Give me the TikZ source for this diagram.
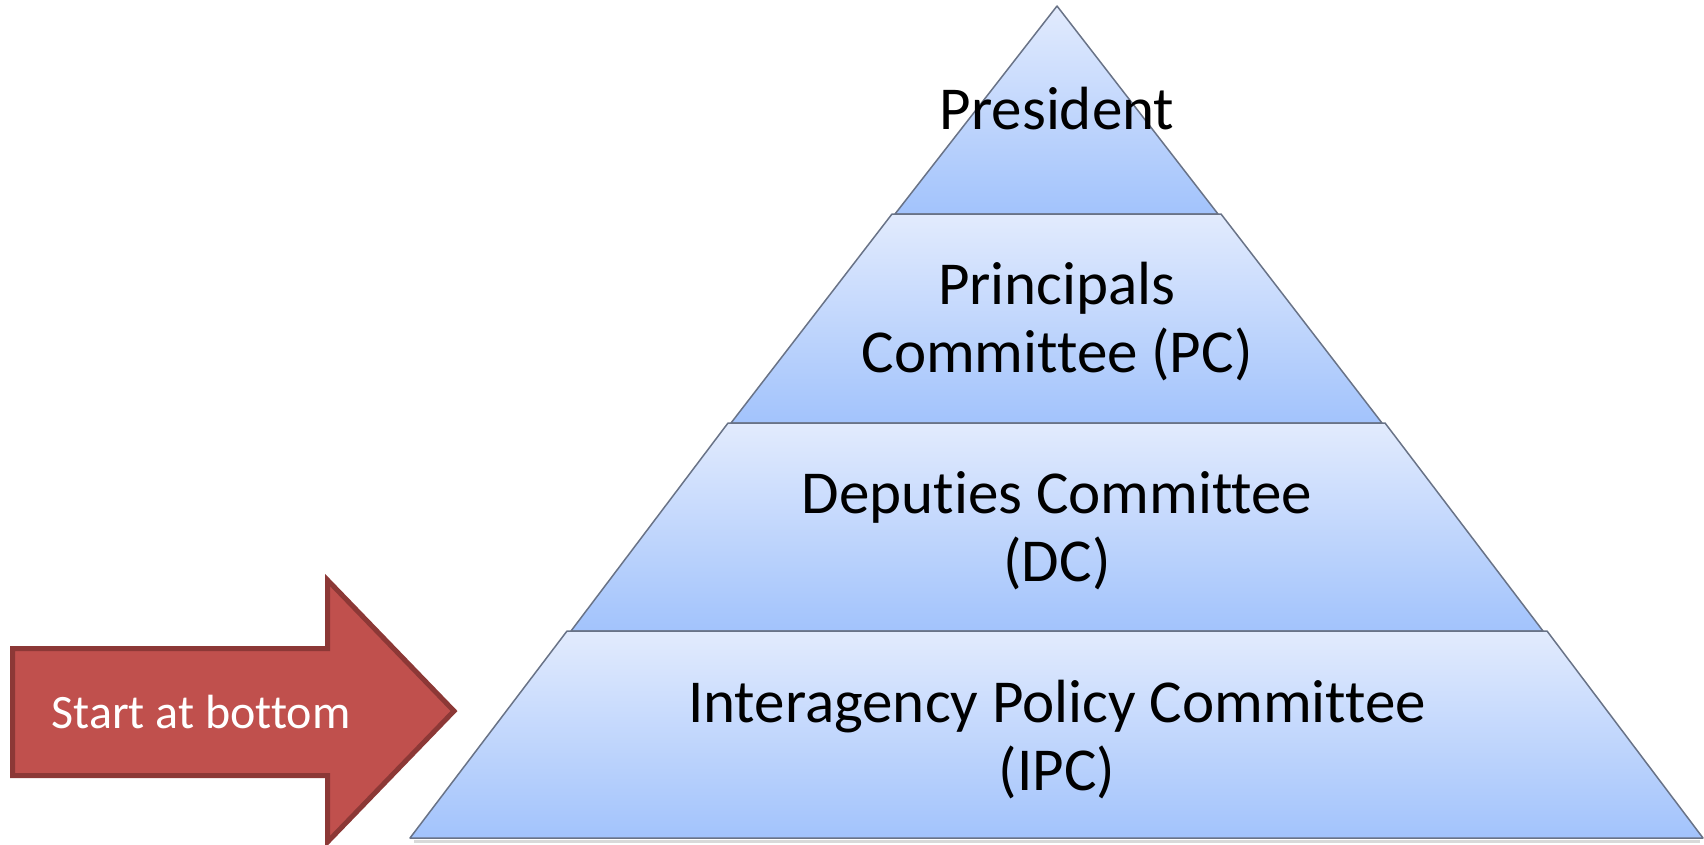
\documentclass[tikz,border=0pt]{standalone}
\usepackage{fontspec}
\setmainfont{Carlito}[Ligatures={NoCommon}]
\usepackage{tikz}
\usetikzlibrary{calc}
\definecolor{tiertop}{RGB}{226,235,253}
\definecolor{tierbot}{RGB}{162,195,252}
\definecolor{tierline}{RGB}{105,115,135}
\definecolor{arrowfill}{RGB}{192,80,77}
\definecolor{arrowline}{RGB}{140,56,54}
\tikzstyle{every node}=[inner sep=0pt]
\tikzstyle{tier}=[draw=tierline, line width=1.5pt, top color=tiertop, bottom color=tierbot, line join=round]
\tikzstyle{tiertext}=[font=\fontsize{61}{68}\selectfont, align=center, text=black]

\begin{document}
\begin{tikzpicture}[x=1pt, y=-1pt]
            \useasboundingbox (0, 0) rectangle (1704, 844);

            % pyramid, top to bottom
            \draw [gray!30, line width=3pt] (414, 841) -- (1700, 841);
            \draw [tier] (895, 214) -- (1057, 6) -- (1218, 214) -- cycle;
            \draw [tier] (731, 423) -- (892, 214) -- (1221, 214) -- (1382, 423) -- cycle;
            \draw [tier] (571, 631) -- (728, 423) -- (1385, 423) -- (1543, 631) -- cycle;
            \draw [tier] (410, 838) -- (567, 631) -- (1547, 631) -- (1703, 838) -- cycle;

            \node [tiertext] (pres) at (1057, 109) {President};
            \node [tiertext] (pc) at (1057, 322) {Principals\\Committee (PC)};
            \node [tiertext] (dc) at (1057, 531) {Deputies Committee\\(DC)};
            \node [tiertext] (ipc) at (1057, 740) {Interagency Policy Committee\\(IPC)};

            % arrow
            \draw [arrowline, fill=arrowfill, line width=5pt, line join=miter]
                (12.5, 648.5) -- (327.5, 648.5) -- (327.5, 580) -- (454, 711)
                -- (327.5, 842) -- (327.5, 775.5) -- (12.5, 775.5) -- cycle;
            \node [font=\fontsize{48}{58}\selectfont, text=white] (start) at (201, 712) {Start at bottom};
        \end{tikzpicture}
\end{document}
